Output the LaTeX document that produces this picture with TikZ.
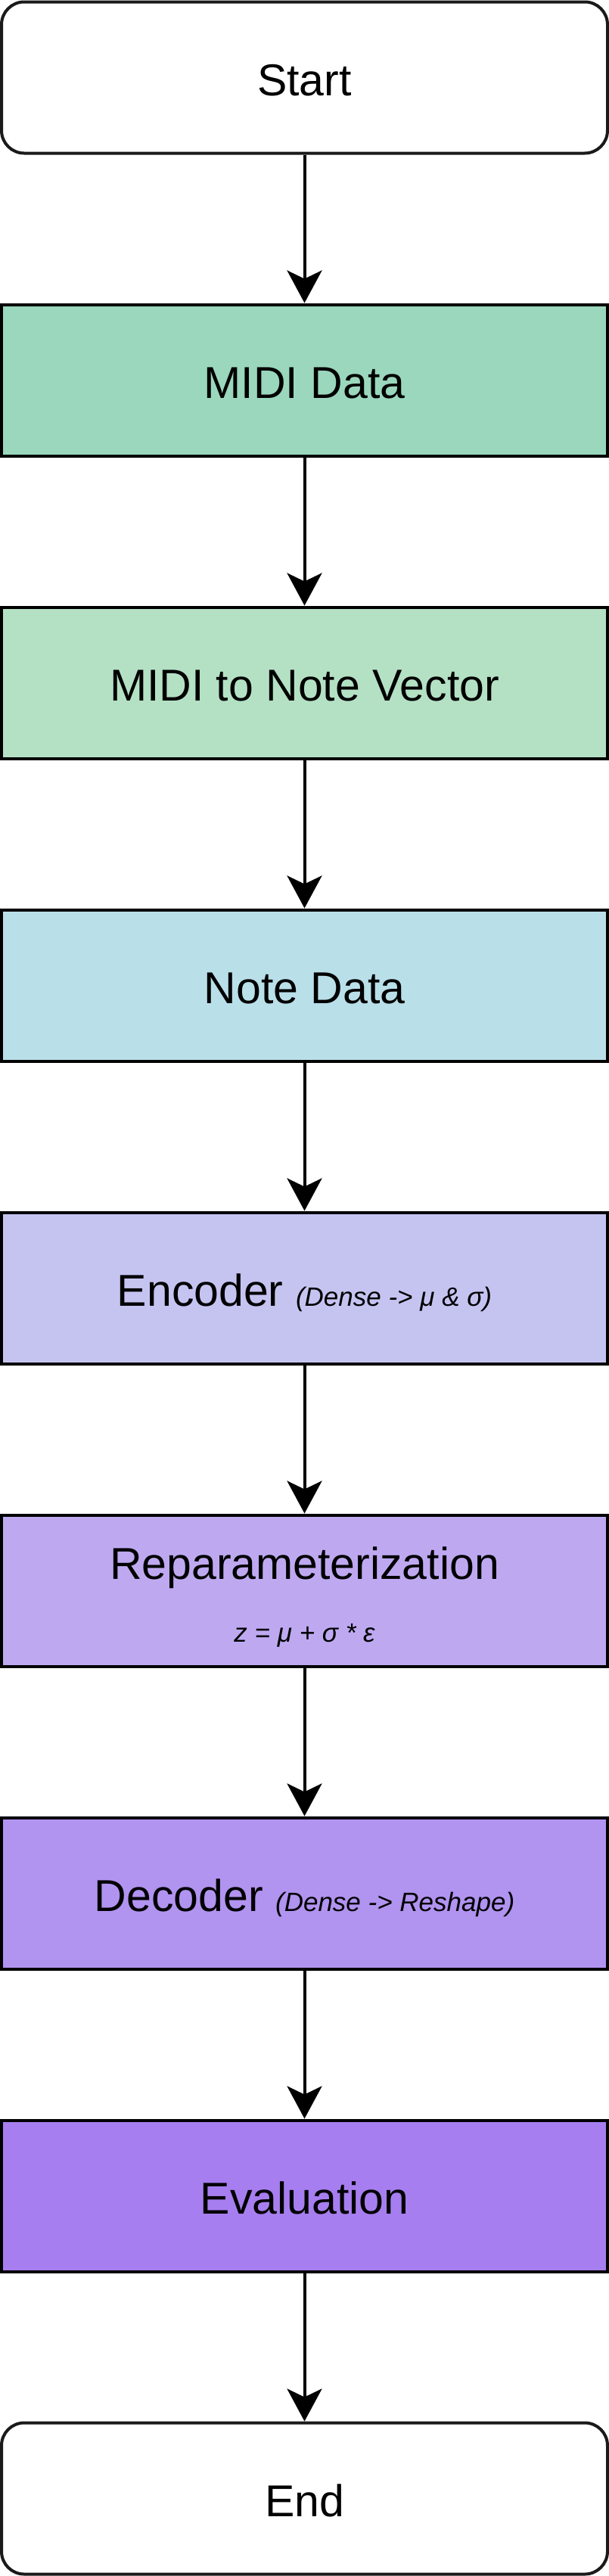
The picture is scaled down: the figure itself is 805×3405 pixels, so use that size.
\documentclass[tikz,border=0pt]{standalone}
\usepackage{fontspec}
\setmainfont{Liberation Sans}
\usetikzlibrary{arrows.meta, positioning}
\definecolor{termgray}{HTML}{1A1A1A}
\definecolor{midigreen}{HTML}{9AD7BD}
\definecolor{vecgreen}{HTML}{B4E1C4}
\definecolor{noteblue}{HTML}{B9DFE9}
\definecolor{encviolet}{HTML}{C5C4F1}
\definecolor{repviolet}{HTML}{BEA9F1}
\definecolor{decviolet}{HTML}{B193F0}
\definecolor{evalviolet}{HTML}{A77EEF}
\tikzset{
  stage/.style={draw=black, line width=4pt, minimum width=801pt, minimum height=200pt,
                inner sep=0pt, align=center, font=\fontsize{59}{68}\selectfont},
  oneline/.style={text height=47pt, text depth=0pt},
  terminal/.style={stage, oneline, draw=termgray, fill=white, rounded corners=30pt},
  flow/.style={-{Stealth[length=43pt, width=46pt, inset=11pt]}, line width=4pt, draw=black},
}
\newcommand{\subnote}[1]{{\fontsize{35}{42}\selectfont\itshape #1}}
\begin{document}
\begin{tikzpicture}[node distance=196pt]
  \useasboundingbox (0,0) rectangle (805pt,-3405pt);
  \node (start)  [terminal] at (402.5pt,-102.5pt) {Start};
  \node (midi)   [stage, oneline, fill=midigreen, below=of start] {MIDI Data};
  \node (vec)    [stage, oneline, fill=vecgreen, below=of midi] {MIDI to Note Vector};
  \node (notes)  [stage, oneline, fill=noteblue, below=of vec] {Note Data};
  \node (enc)    [stage, oneline, fill=encviolet, below=of notes] {Encoder \subnote{(Dense -> μ \& σ)}};
  \node (rep)    [stage, fill=repviolet, below=of enc] {};
  \node (reptxt) [align=center, inner sep=0pt, font=\fontsize{59}{68}\selectfont, yshift=-8pt]
                 at (rep) {Reparameterization\\[15pt]\subnote{z = μ + σ * ε}};
  \node (dec)    [stage, oneline, fill=decviolet, below=of rep] {Decoder \subnote{(Dense -> Reshape)}};
  \node (eval)   [stage, oneline, fill=evalviolet, below=of dec] {Evaluation};
  \node (finish) [terminal, below=of eval] {End};

  \draw[flow] (start) -- (midi);
  \draw[flow] (midi) -- (vec);
  \draw[flow] (vec) -- (notes);
  \draw[flow] (notes) -- (enc);
  \draw[flow] (enc) -- (rep);
  \draw[flow] (rep) -- (dec);
  \draw[flow] (dec) -- (eval);
  \draw[flow] (eval) -- (finish);
\end{tikzpicture}
\end{document}
